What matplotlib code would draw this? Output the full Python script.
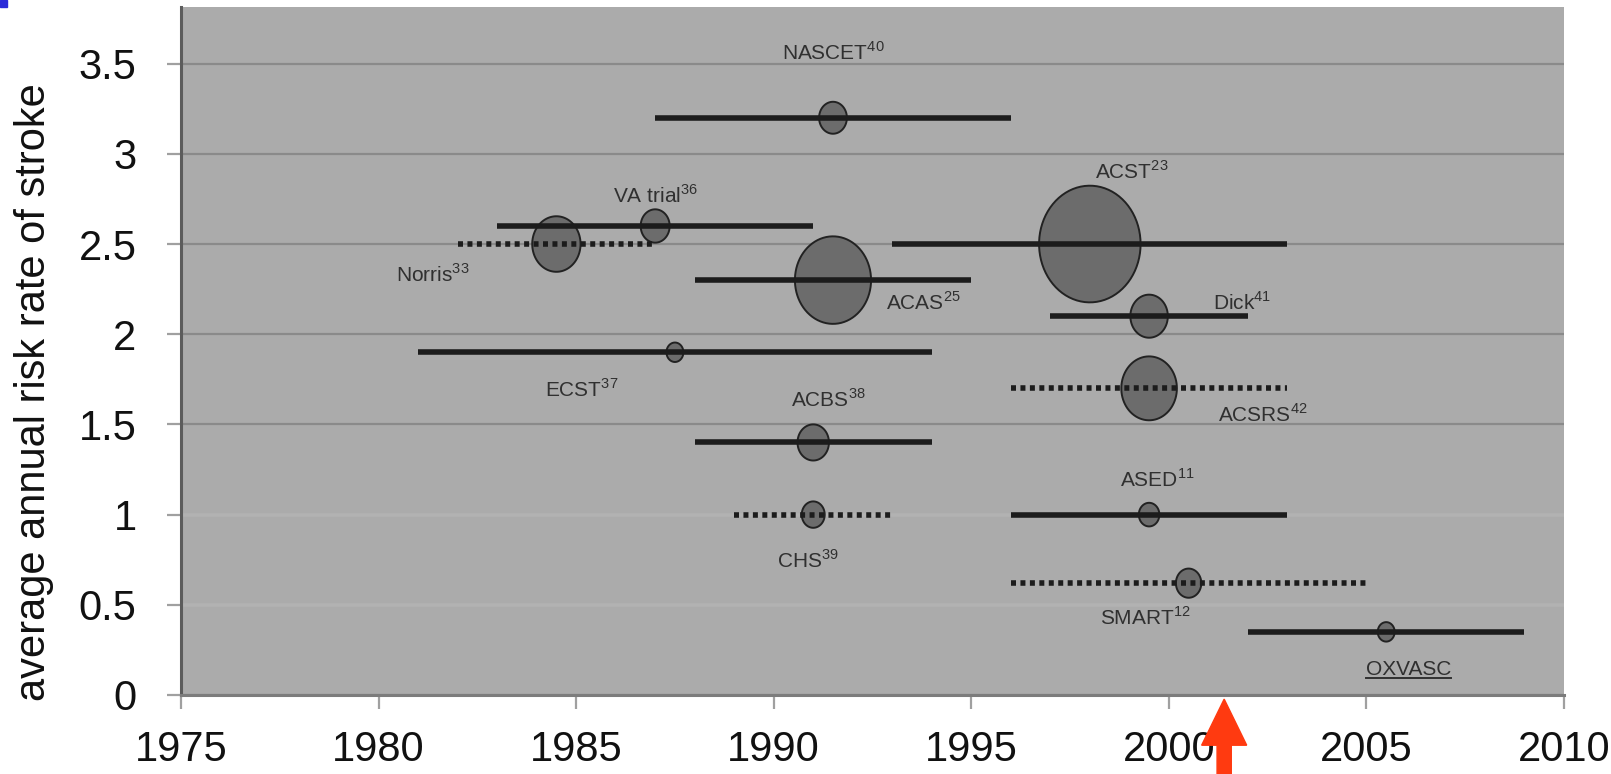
import numpy as np
import matplotlib.pyplot as plt
from matplotlib.path import Path
from matplotlib.patches import FancyArrow, Rectangle
from matplotlib.lines import Line2D
from matplotlib.ticker import FuncFormatter

plt.rcParams['font.family'] = ['Liberation Sans', 'DejaVu Sans']
plt.rcParams['mathtext.fontset'] = 'custom'
plt.rcParams['mathtext.rm'] = 'Liberation Sans'

# studies: name, reference number, period of recruitment, risk rate
names = ['NASCET', 'VA trial', 'Norris', 'ACAS', 'ACST', 'Dick', 'ECST',
         'ACSRS', 'ACBS', 'CHS', 'ASED', 'SMART', 'OXVASC']
refs = ['40', '36', '33', '25', '23', '41', '37', '42', '38', '39', '11', '12', '']
year_mid = [1991.5, 1987, 1984.5, 1991.5, 1998, 1999.5, 1987.5,
            1999.5, 1991, 1991, 1999.5, 2000.5, 2005.5]
year_start = [1987, 1983, 1982, 1988, 1993, 1997, 1981,
              1996, 1988, 1989, 1996, 1996, 2002]
year_end = [1996, 1991, 1987, 1995, 2003, 2002, 1994,
            2003, 1994, 1993, 2003, 2005, 2009]
risk = [3.2, 2.6, 2.5, 2.3, 2.5, 2.1, 1.9, 1.7, 1.4, 1.0, 1.0, 0.62, 0.35]
dotted = [False, False, True, False, False, False, False,
          True, False, True, False, True, False]
# bubble diameter (study size)
bubble = [23, 24, 40, 63, 84, 31, 14, 46, 26, 19, 17, 21, 14]

# label offsets from bubble centre (points)
label_off = [(0, 47), (0, 22), (-89, -22), (65, -16), (30, 52), (67, 10),
             (-67, -27), (82, -19), (11, 31), (-4, -33), (6, 25), (-31, -25),
             (16, -27)]

fig = plt.figure(figsize=(16.11, 7.74), dpi=100)
ax = fig.add_axes([181/1611, 1 - 695/774, (1564 - 181)/1611, (695 - 7)/774])
ax.set_facecolor('#ababab')

ax.set_xlim(1975, 2010)
ax.set_ylim(0, 3.814)
ax.set_xticks(np.arange(1975, 2011, 5))
ax.set_yticks(np.arange(0, 3.6, 0.5))
ax.yaxis.set_major_formatter(FuncFormatter(lambda v, p: '{:g}'.format(v)))
ax.set_axisbelow(True)
ax.grid(axis='y', color='#8a8a8a', lw=1.6)
ax.grid(axis='x', visible=False)
# the lower two grid lines are lighter and wider in the original
for gl, v in zip(ax.get_ygridlines(), ax.get_yticks()):
    if v in (0.5, 1.0):
        gl.set_color('#b2b2b2')
        gl.set_linewidth(2.6)

for s in ['top', 'right']:
    ax.spines[s].set_visible(False)
ax.spines['left'].set_color('#5c5c5c')
ax.spines['left'].set_linewidth(2.2)
ax.spines['bottom'].set_color('#7c7c7c')
ax.spines['bottom'].set_linewidth(2.2)
ax.tick_params(axis='both', direction='out', length=10, width=1.6,
               color='#a0a0a0', labelsize=30, labelcolor='#111111')
ax.tick_params(axis='y', pad=22)
ax.tick_params(axis='x', pad=15)
ax.set_ylabel('average annual risk rate of stroke', fontsize=30,
              color='#111111', va='center')
ax.yaxis.set_label_coords(-0.106, 0.44)

# horizontal bars for recruitment periods
for i in range(len(names)):
    ls = (0, (0.9, 0.8)) if dotted[i] else '-'
    ax.plot([year_start[i], year_end[i]], [risk[i], risk[i]], color='#1c1c1c',
            lw=4.0, ls=ls, solid_capstyle='butt', zorder=4)

# slightly tall elliptical bubble marker
t = np.linspace(0, 2*np.pi, 80)
ell = Path(np.column_stack([0.87*np.cos(t), np.sin(t)]), closed=True)
ax.scatter(year_mid, risk, s=np.array(bubble)**2, marker=ell,
           facecolor='#6c6c6c', edgecolor='#222222', linewidths=1.4, zorder=3)

labels = []
for i in range(len(names)):
    if refs[i]:
        txt = names[i] + r'$^{\mathregular{' + refs[i] + '}}$'
    else:
        txt = names[i]
    a = ax.annotate(txt, (year_mid[i], risk[i]), xytext=label_off[i],
                    textcoords='offset points', ha='center', va='center',
                    fontsize=15, color='#303030', zorder=5)
    labels.append(a)

# red arrow under the axis
tr = ax.get_xaxis_transform()
arr = FancyArrow(2001.4, -0.135, 0, 0.129, width=0.36, head_width=1.14,
                 head_length=0.067, length_includes_head=True,
                 color='#ff3a10', transform=tr, clip_on=False, zorder=6)
ax.add_patch(arr)

# small blue marker in the corner
fig.patches.append(Rectangle((0, 1 - 7/774), 7/1611, 7/774, color='#2a2ad8',
                             transform=fig.transFigure, figure=fig))

# underline the OXVASC label
fig.canvas.draw()
bb = labels[names.index('OXVASC')].get_window_extent()
fig.lines.append(Line2D([bb.x0, bb.x1], [bb.y0 + 1, bb.y0 + 1], lw=1.4,
                        color='#303030', transform=None, figure=fig))

plt.savefig('out.png', dpi=100)
